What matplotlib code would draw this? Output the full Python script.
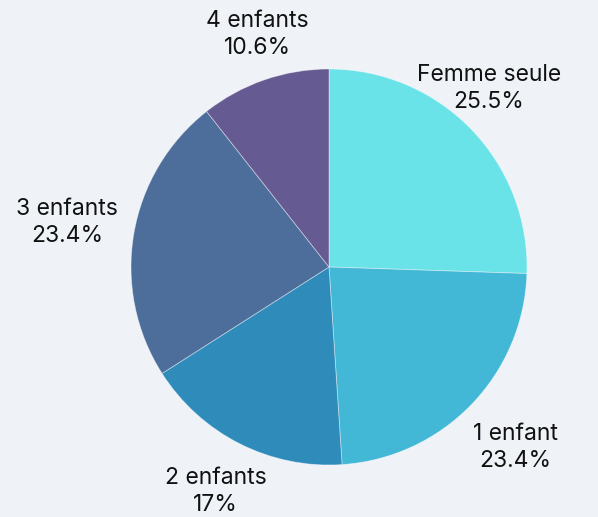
import matplotlib
matplotlib.use('Agg')
import matplotlib.pyplot as plt
import numpy as np

# data
labels = ['Femme seule', '1 enfant', '2 enfants', '3 enfants', '4 enfants']
values = [25.5, 23.4, 17, 23.4, 10.6]
pct_text = ['25.5%', '23.4%', '17%', '23.4%', '10.6%']
colors = ['#6ae3e8', '#43b7d6', '#2e8bba', '#4d6e9a', '#655a91']

# label placement tweaks (distance in radii, angle shift in degrees)
label_dist = [1.21, 1.31, 1.27, 1.34, 1.23]
label_shift = [4, 0, 0, 0, -2]

bg = '#eff3f8'
plt.rcParams['font.family'] = ['Inter', 'DejaVu Sans']

fig = plt.figure(figsize=(5.98, 5.17), dpi=100)
fig.patch.set_facecolor(bg)
ax = fig.add_axes([131/598, 52/517, 396/598, 396/517])
ax.set_facecolor(bg)

wedges, _ = ax.pie(values, colors=colors, startangle=90, counterclock=False,
                   radius=1, wedgeprops=dict(edgecolor=(1, 1, 1, 0.45), linewidth=0.6))

for w, lab, pct, d, sh in zip(wedges, labels, pct_text, label_dist, label_shift):
    ang = np.deg2rad((w.theta1 + w.theta2) / 2 + sh)
    ax.text(d * np.cos(ang), d * np.sin(ang), lab + '\n' + pct,
            ha='center', va='center', fontsize=16.5, color='#111111',
            linespacing=1.3, clip_on=False)

ax.set_xlim(-1, 1)
ax.set_ylim(-1, 1)
ax.set_aspect('equal')
ax.axis('off')

fig.savefig('out.png', dpi=100, facecolor=bg)
